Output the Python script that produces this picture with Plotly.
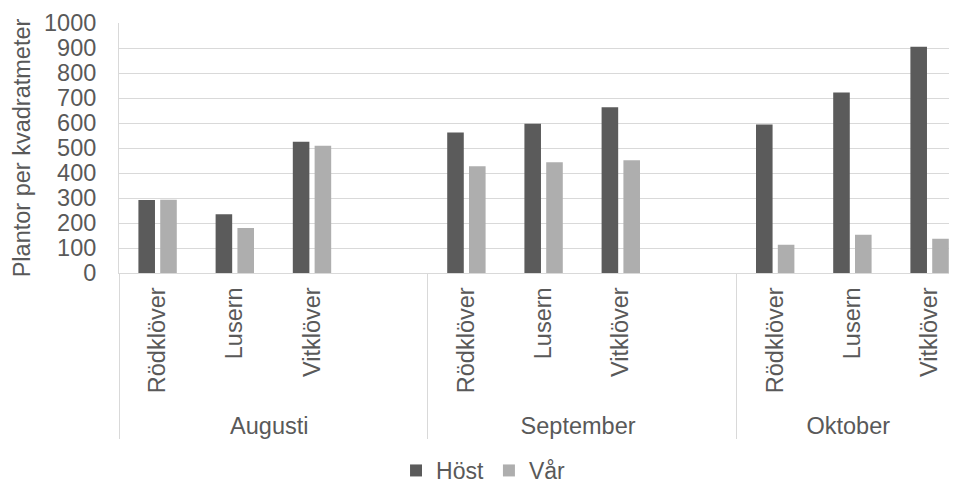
import plotly.graph_objects as go

manader = ["Augusti", "September", "Oktober"]
arter = ["Rödklöver", "Lusern", "Vitklöver"]
host = [[292, 235, 525], [562, 597, 663], [594, 722, 905]]
var = [[293, 180, 509], [427, 443, 451], [113, 153, 137]]
y_ticks = [0, 100, 200, 300, 400, 500, 600, 700, 800, 900, 1000]

# bygg multikategori-axeln, med en tom plats efter aug och sep
x_man, x_art, y_host, y_var = [], [], [], []
for i, m in enumerate(manader):
    for j, a in enumerate(arter):
        x_man.append(m)
        x_art.append(a)
        y_host.append(host[i][j])
        y_var.append(var[i][j])
    if i < len(manader) - 1:
        x_man.append(m)
        x_art.append(" ")
        y_host.append(None)
        y_var.append(None)

textfarg = "#595959"
gridfarg = "#d9d9d9"

fig = go.Figure()
fig.add_trace(go.Bar(x=[x_man, x_art], y=y_host, name="Höst",
                     marker_color="#5b5b5b", marker_line_width=0))
fig.add_trace(go.Bar(x=[x_man, x_art], y=y_var, name="Vår",
                     marker_color="#aeaeae", marker_line_width=0))

# sidan har 8px marginal i body, därför 949x475
fig.update_layout(
    width=949, height=475,
    margin=dict(l=111, r=0, t=15, b=210, autoexpand=False),
    paper_bgcolor="white", plot_bgcolor="white",
    font=dict(family="Liberation Sans, Arial", size=23, color=textfarg),
    barmode="group", bargap=0.435, bargroupgap=0.24,
    legend=dict(orientation="h", x=0.435, xanchor="center", y=-0.79, yanchor="middle",
                font=dict(size=23), itemwidth=30, traceorder="normal"),
)
fig.update_xaxes(
    type="multicategory", tickangle=-90, range=[-0.5, 10.355], automargin=False,
    showline=True, linecolor=gridfarg, linewidth=1, ticklabelstandoff=4,
    showgrid=False, showdividers=True, dividercolor=gridfarg, dividerwidth=1,
    tickfont=dict(size=23.5, color=textfarg),
)
fig.update_yaxes(
    range=[0, 1000], tickvals=y_ticks, showgrid=True, gridcolor=gridfarg, gridwidth=1,
    showline=True, linecolor=gridfarg, zeroline=False, ticklabelstandoff=17, automargin=False,
    title=dict(text="\u00a0\u00a0Plantor per kvadratmeter", font=dict(size=23.5, color=textfarg), standoff=6),
    tickfont=dict(size=23.5, color=textfarg),
)

fig.write_html("out.html")
